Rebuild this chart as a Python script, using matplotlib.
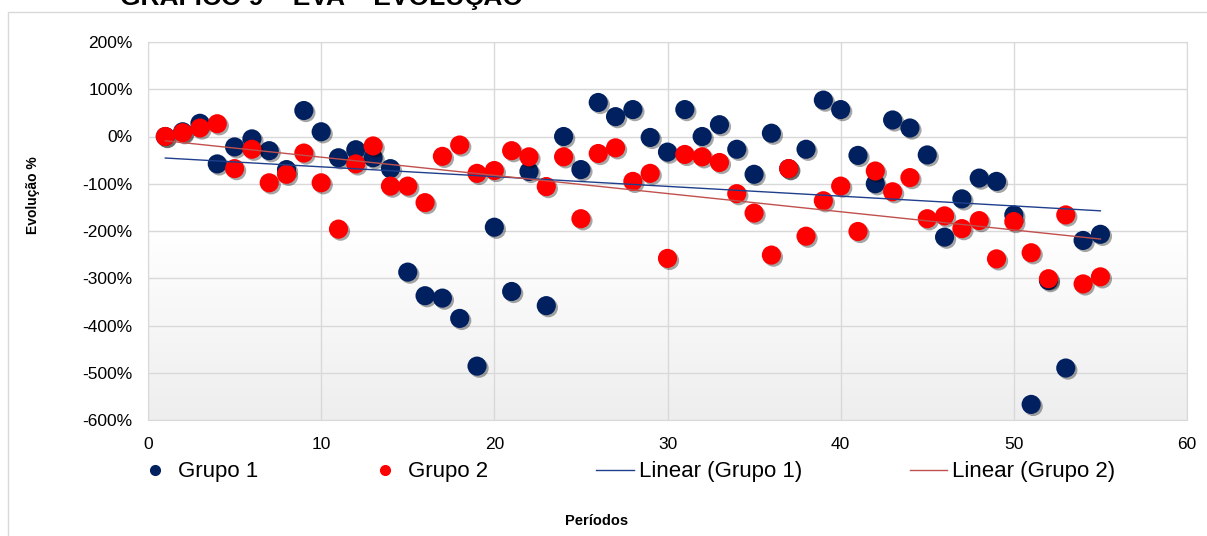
import numpy as np
import matplotlib.pyplot as plt
import matplotlib.patheffects as pe
from matplotlib.lines import Line2D
from matplotlib.patches import Rectangle
from matplotlib.colors import LinearSegmentedColormap

plt.rcParams['font.family'] = ['Liberation Sans', 'DejaVu Sans']

# EVA evolution (%) per period for each group
periodos = list(range(1, 56))
grupo1 = [0, 10, 28, -58, -22, -5, -30, -70, 55, 10,
          -45, -28, -45, -68, -287, -337, -342, -385, -486, -192,
          -328, -74, -358, 0, -70, 72, 42, 57, -2, -33,
          57, 0, 25, -27, -80, 7, -68, -27, 77, 57,
          -40, -100, 35, 18, -39, -213, -132, -88, -95, -166,
          -567, -305, -490, -220, -207]
grupo2 = [0, 8, 18, 27, -68, -27, -98, -80, -35, -98,
          -196, -58, -20, -105, -105, -140, -42, -18, -78, -72,
          -30, -43, -106, -43, -174, -36, -24, -95, -78, -258,
          -38, -43, -55, -121, -162, -251, -68, -211, -136, -105,
          -201, -73, -117, -87, -174, -168, -195, -178, -259, -180,
          -246, -301, -166, -312, -297]
y_ticks = list(range(-600, 201, 100))
x_ticks = list(range(0, 61, 10))

navy = '#002060'
red = '#FF0000'
trend_navy = '#1F3F8C'
trend_red = '#C0504D'

W, H = 1207, 536
fig = plt.figure(figsize=(W / 100, H / 100), dpi=100)

# outer chart frame
fig.patches.append(Rectangle((8 / W, -0.1), 1.2, 1 - 12 / H + 0.1,
                             transform=fig.transFigure, fill=False,
                             edgecolor='#d9d9d9', lw=1))

fig.text(120 / W, 1 - 5 / H, 'GRÁFICO 9 – EVA – EVOLUÇÃO', fontsize=19,
         fontweight='bold', ha='left', va='baseline')

ax = fig.add_axes([148 / W, 1 - 420 / H, (1187 - 148) / W, (420 - 42) / H])
ax.set_xlim(0, 60)
ax.set_ylim(-600, 200)

# plot-area gradient fill
grad = LinearSegmentedColormap.from_list('bg', ['#ffffff', '#ffffff', '#eeeeee'])
ax.imshow(np.linspace(0, 1, 256).reshape(-1, 1), extent=[0, 60, -600, 200],
          origin='upper', aspect='auto', cmap=grad, zorder=0)

ax.set_xticks(x_ticks)
ax.set_yticks(y_ticks)
ax.set_yticklabels([f'{v}%' for v in y_ticks])
ax.tick_params(length=0, labelsize=12.5)
ax.tick_params(axis='y', pad=11)
ax.tick_params(axis='x', pad=12)
ax.grid(True, color='#d9d9d9', lw=1)
ax.set_axisbelow(True)
for s in ax.spines.values():
    s.set_color('#d9d9d9')

shadow = [pe.SimplePatchShadow(offset=(1.5, -1.5), shadow_rgbFace='black', alpha=0.35),
          pe.Normal()]
ax.scatter(periodos, grupo1, s=190, color=navy, edgecolors='none', zorder=3,
           path_effects=shadow)
ax.scatter(periodos, grupo2, s=190, color=red, edgecolors='none', zorder=4,
           path_effects=shadow)

xs = np.array(periodos, dtype=float)
for vals, col in ((grupo1, trend_navy), (grupo2, trend_red)):
    k, b = np.polyfit(xs, np.array(vals, dtype=float), 1)
    ax.plot([xs[0], xs[-1]], [k * xs[0] + b, k * xs[-1] + b], color=col, lw=1, zorder=5)

handles = [
    Line2D([], [], ls='none', marker='o', ms=7, color=navy),
    Line2D([], [], ls='none', marker='o', ms=7, color=red),
    Line2D([], [], color=trend_navy, lw=1),
    Line2D([], [], color=trend_red, lw=1),
]
labels = ['Grupo 1', 'Grupo 2', 'Linear (Grupo 1)', 'Linear (Grupo 2)']
fig.legend(handles, labels, loc='center left', bbox_to_anchor=(116 / W, 1 - 472 / H),
           ncol=4, frameon=False, fontsize=16, handlelength=1.7, handletextpad=0.2,
           columnspacing=4.85)

fig.text(33 / W, 1 - 195 / H, 'Evolução %', rotation=90, fontsize=10,
         fontweight='bold', ha='center', va='center')
fig.text(597 / W, 1 - 521 / H, 'Períodos', fontsize=10.5, fontweight='bold',
         ha='center', va='center')

fig.savefig('out.png', dpi=100)
